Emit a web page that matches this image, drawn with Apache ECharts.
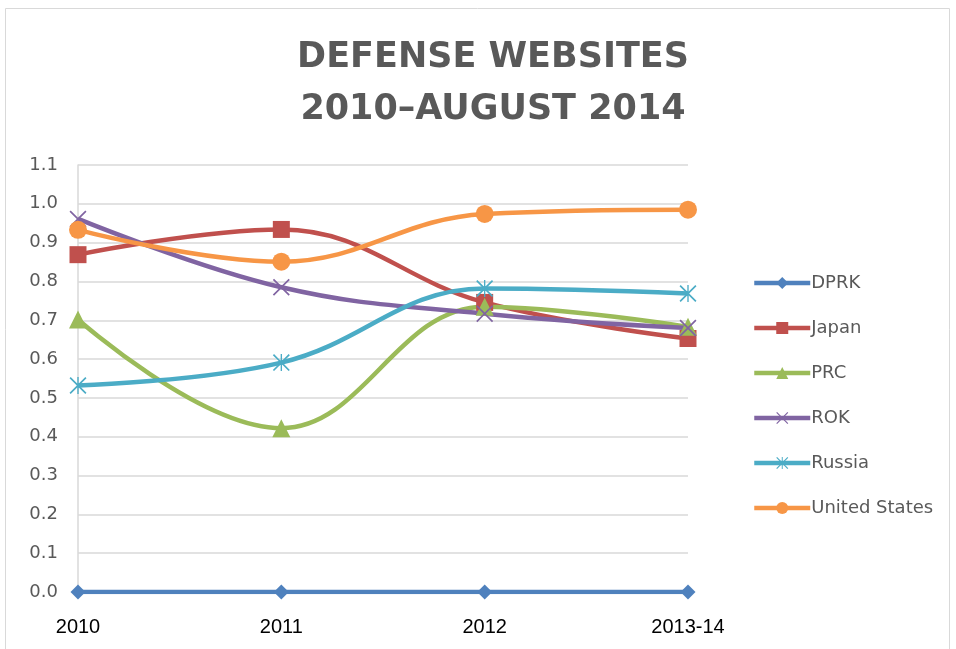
<!DOCTYPE html>
<html>
<head>
<meta charset="utf-8">
<script src="https://cdn.jsdelivr.net/npm/echarts@6/dist/echarts.min.js"></script>
<style>
  html, body { margin: 0; padding: 0; background: #fff; }
  #chart { width: 956px; height: 649px; }
</style>
</head>
<body>
<div id="chart"></div>
<script>
// categories and values
const years = ["2010", "2011", "2012", "2013-14"];
const dprk = [0, 0, 0, 0];
const japan = [0.869, 0.934, 0.746, 0.653];
const prc = [0.702, 0.422, 0.735, 0.683];
const rok = [0.961, 0.785, 0.717, 0.68];
const russia = [0.532, 0.591, 0.782, 0.769];
const usa = [0.933, 0.851, 0.974, 0.985];

const colors = ["#4F81BD", "#C0504D", "#9BBB59", "#8064A2", "#4BACC6", "#F79646"];

// marker shapes drawn as filled paths
const crossPath = "path://M0,0.7L0.7,0L5,4.3L9.3,0L10,0.7L5.7,5L10,9.3L9.3,10L5,5.7L0.7,10L0,9.3L4.3,5Z";
const starPath = crossPath + "M4.6,0L5.4,0L5.4,10L4.6,10Z";

function makeSeries(name, data, symbol, size) {
  return {
    name: name,
    type: "line",
    data: data,
    smooth: 0.4,
    symbol: symbol,
    symbolSize: size,
    showSymbol: true,
    lineStyle: { width: 4.5 },
    emphasis: { disabled: true },
  };
}

let chartDom = document.getElementById("chart");
let myChart = echarts.init(chartDom);
let option = {
  animation: false,
  color: colors,
  graphic: [
    {
      type: "rect",
      shape: { x: 5.5, y: 8.5, width: 944, height: 660 },
      style: { fill: "none", stroke: "#d9d9d9", lineWidth: 1 },
      silent: true,
    },
  ],
  title: {
    text: "DEFENSE WEBSITES\n2010–AUGUST 2014",
    left: 488,
    textAlign: "center",
    top: 27,
    textStyle: {
      fontFamily: "DejaVu Sans",
      fontWeight: "bold",
      fontSize: 35,
      lineHeight: 52,
      color: "#595959",
    },
  },
  legend: {
    orient: "vertical",
    left: 747,
    top: 269,
    itemWidth: 56,
    itemHeight: 15,
    itemGap: 27,
    lineStyle: { width: 4.5 },
    textStyle: {
      fontFamily: "DejaVu Sans",
      fontSize: 18,
      color: "#595959",
      padding: [0, 0, 0, -4],
    },
    data: ["DPRK", "Japan", "PRC", "ROK", "Russia", "United States"],
  },
  grid: {
    left: 78,
    right: 268,
    top: 165,
    bottom: 57,
  },
  xAxis: {
    type: "category",
    boundaryGap: false,
    data: years,
    axisLine: { show: false },
    axisTick: { show: false },
    axisLabel: {
      margin: 25,
      fontFamily: "Liberation Sans",
      fontSize: 20,
      color: "#000",
    },
  },
  yAxis: {
    type: "value",
    min: 0,
    max: 1.1,
    interval: 0.1,
    axisLine: { show: true, lineStyle: { color: "#d9d9d9", width: 1.5 } },
    axisTick: { show: false },
    splitLine: { lineStyle: { color: "#d9d9d9", width: 1.5 } },
    axisLabel: {
      margin: 20,
      fontFamily: "DejaVu Sans",
      fontSize: 18,
      color: "#595959",
      formatter: (v) => v.toFixed(1),
    },
  },
  series: [
    makeSeries("DPRK", dprk, "diamond", 15),
    makeSeries("Japan", japan, "rect", 17),
    makeSeries("PRC", prc, "triangle", 18),
    makeSeries("ROK", rok, crossPath, 17),
    makeSeries("Russia", russia, starPath, 17),
    makeSeries("United States", usa, "circle", 18),
  ],
};

option && myChart.setOption(option);
</script>
</body>
</html>
